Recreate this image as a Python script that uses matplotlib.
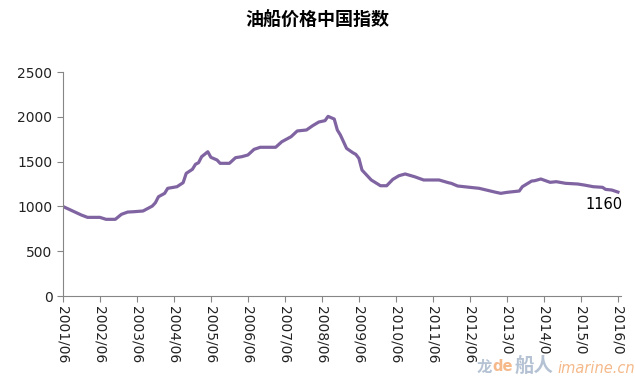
import matplotlib.pyplot as plt

plt.rcParams['font.family'] = ['Noto Sans CJK SC', 'DejaVu Sans']

# months since 2001/06 and index values
months = [0, 3, 6, 8, 12, 14, 17, 19, 21, 23, 26, 29, 30, 31, 33, 34, 37, 39,
          40, 42, 43, 44, 45, 47, 48, 50, 51, 54, 56, 58, 60, 62, 64, 69, 71,
          74, 76, 79, 81, 83, 85, 86, 88, 89, 90, 92, 94, 95, 96, 97, 100,
          103, 105, 107, 109, 111, 114, 117, 122, 125, 126, 128, 132, 135,
          140, 142, 144, 148, 149, 152, 153, 155, 158, 160, 163, 167, 169,
          172, 175, 176, 178, 180]
values = [1000, 952, 904, 878, 878, 856, 856, 912, 937, 941, 949, 1004, 1041,
          1108, 1146, 1202, 1220, 1265, 1369, 1414, 1470, 1488, 1555, 1610,
          1548, 1518, 1481, 1481, 1544, 1555, 1574, 1637, 1660, 1660, 1722,
          1778, 1842, 1853, 1901, 1942, 1957, 2005, 1975, 1853, 1797, 1648,
          1600, 1581, 1536, 1406, 1295, 1231, 1231, 1302, 1343, 1362, 1332,
          1295, 1295, 1265, 1257, 1228, 1213, 1202, 1161, 1146, 1157, 1172,
          1220, 1283, 1287, 1306, 1269, 1276, 1258, 1250, 1239, 1220, 1213,
          1190, 1183, 1160]
# the last four labels are cut off by the watermark in the source
year_labels = ['2001/06', '2002/06', '2003/06', '2004/06', '2005/06', '2006/06',
               '2007/06', '2008/06', '2009/06', '2010/06', '2011/06', '2012/06',
               '2013/0', '2014/0', '2015/0', '2016/0']
yticks = [0, 500, 1000, 1500, 2000, 2500]

fig = plt.figure(figsize=(6.35, 3.81), dpi=100)
ax = fig.add_axes([0.099, 0.223, 0.879, 0.588])

ax.plot(months, values, color='#8064A2', lw=2.3, solid_joinstyle='round')
ax.annotate('1160', (months[-1], values[-1]), xytext=(-10, -9),
            textcoords='offset points', ha='center', va='center',
            fontsize=10.5, family=['DejaVu Sans'])

ax.set_xlim(0, 181)
ax.set_ylim(0, 2500)
ax.set_yticks(yticks)
ax.set_xticks([12 * i for i in range(len(year_labels))])
ax.set_xticklabels(year_labels, rotation=270, fontsize=10, family=['DejaVu Sans'],
                   va='top')
ax.tick_params(axis='y', labelsize=10, colors='#868686', labelcolor='#222222',
               length=4, direction='out')
ax.tick_params(axis='x', colors='#868686', labelcolor='#222222', length=4,
               direction='out')
for l in ax.get_yticklabels():
    l.set_family(['DejaVu Sans'])
for s in ['top', 'right']:
    ax.spines[s].set_visible(False)
for s in ['left', 'bottom']:
    ax.spines[s].set_color('#868686')

fig.text(0.5, 0.947, '油船价格中国指数', ha='center', va='center', fontsize=13,
         fontweight='bold')

# watermark
fig.text(0.751, 0.038, '龙', color='#b4c2d3', fontsize=11, fontweight='bold',
         ha='left', va='center')
fig.text(0.776, 0.038, 'de', color='#f5b98a', fontsize=10.5, fontweight='bold',
         ha='left', va='center', family=['DejaVu Sans'])
fig.text(0.81, 0.038, '船人', color='#b4c2d3', fontsize=14, fontweight='bold',
         ha='left', va='center')
fig.text(0.878, 0.033, 'imarine.cn', color='#f5b98a', fontsize=10.5, ha='left',
         va='center', style='italic', family=['DejaVu Sans'])

fig.savefig('out.png', dpi=100)
